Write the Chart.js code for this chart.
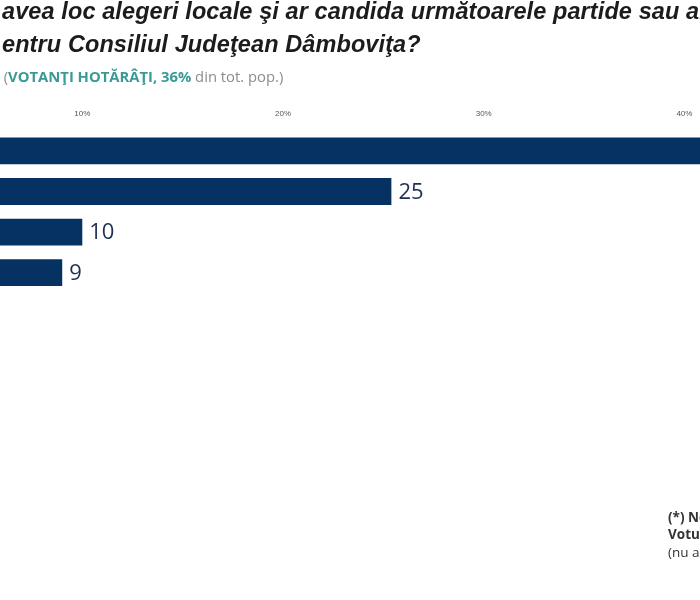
<!DOCTYPE html>
<html>
<head>
<meta charset="utf-8">
<script src="https://cdn.jsdelivr.net/npm/chart.js@4"></script>
<style>
    html, body { margin: 0; padding: 0; background: #fff; }
    #wrap { position: relative; width: 700px; height: 600px; overflow: hidden; }
    #chart { position: absolute; left: 0; top: 0; }
    .t { position: absolute; white-space: nowrap; }
    .title { font-family: "Liberation Sans", sans-serif; font-weight: bold; font-style: italic; font-size: 23.5px; letter-spacing: 0.1px; color: #1c1c1c; }
    .sub { font-family: "Open Sans", sans-serif; font-size: 14.8px; color: #8c8c8c; }
    .sub b { color: #3a9a96; font-weight: 700; }
    .note { font-family: "Open Sans", sans-serif; font-size: 13.5px; color: #333; }
</style>
</head>
<body>
<div id="wrap">
    <!-- canvasul e mai lat decat fereastra, graficul original e taiat in dreapta -->
    <canvas id="chart" width="740" height="600"></canvas>
    <div class="t title" style="left:2px; top:-2px;">avea loc alegeri locale şi ar candida următoarele partide sau alianţe,</div>
    <div class="t title" style="left:2px; top:31px;">entru Consiliul Judeţean Dâmboviţa?</div>
    <div class="t sub" style="left:-4px; top:66px;">: (<b>VOTANŢI HOTĂRÂŢI, 36%</b> din tot. pop.)</div>
    <div class="t note" style="left:668px; top:508px; font-weight:bold;">(*) Notă:</div>
    <div class="t note" style="left:668px; top:525px; font-weight:bold;">Votul</div>
    <div class="t note" style="left:668px; top:543px;">(nu au</div>
</div>
<script>
// date
var categories = ["PSD", "PNL", "AUR", "USR"];
var values = [52, 25.4, 10, 9];
var tickValues = [10, 20, 30, 40];

// etichete cu valoarea la capatul barei
var valueLabels = {
    id: "valueLabels",
    afterDatasetsDraw: function (chart) {
        var ctx = chart.ctx;
        var meta = chart.getDatasetMeta(0);
        ctx.save();
        ctx.font = "22px 'Open Sans', sans-serif";
        ctx.fillStyle = "#1f2f4f";
        ctx.textBaseline = "middle";
        ctx.textAlign = "left";
        meta.data.forEach(function (bar, i) {
            ctx.fillText(Math.round(values[i]), bar.x + 7, bar.y + 1);
        });
        ctx.restore();
    },
};

var ctx = document.getElementById("chart").getContext("2d");
var myChart = new Chart(ctx, {
    type: "bar",
    data: {
        labels: categories,
        datasets: [
            {
                data: values,
                backgroundColor: "#063263",
                borderWidth: 0,
                categoryPercentage: 1,
                barPercentage: 0.66,
            },
        ],
    },
    options: {
        indexAxis: "y",
        responsive: false,
        animation: false,
        layout: {
            padding: { top: 97, bottom: 307, left: 0, right: 0 },
        },
        scales: {
            x: {
                position: "top",
                min: 5.9,
                max: 42.77,
                afterBuildTicks: function (axis) {
                    axis.ticks = tickValues.map(function (v) {
                        return { value: v };
                    });
                },
                grid: { display: false, drawTicks: false },
                border: { display: false },
                ticks: {
                    padding: 12,
                    color: "#555",
                    font: { size: 8, family: "'Liberation Sans', sans-serif" },
                    callback: function (v) {
                        return v + "%";
                    },
                },
            },
            y: {
                display: false,
            },
        },
        plugins: {
            legend: { display: false },
            tooltip: { enabled: false },
        },
    },
    plugins: [valueLabels],
});
</script>
</body>
</html>
